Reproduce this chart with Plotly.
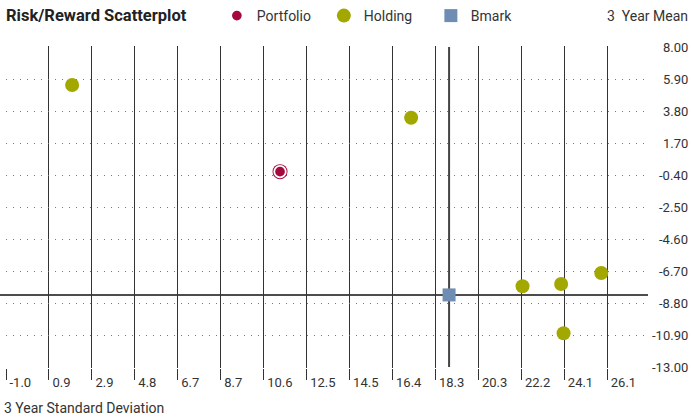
import numpy as np
import plotly.graph_objects as go

# ---- data ----
portfolio_x = [11.35]
portfolio_y = [-0.18]
holding_x = [1.98, 17.26, 22.28, 24.02, 25.83, 24.13]
holding_y = [5.51, 3.36, -7.70, -7.55, -6.83, -10.79]
bmark_x = [18.97]
bmark_y = [-8.27]
x_tick_labels = ["-1.0", "0.9", "2.9", "4.8", "6.7", "8.7", "10.6", "12.5",
                 "14.5", "16.4", "18.3", "20.3", "22.2", "24.1", "26.1"]
y_tick_labels = ["8.00", "5.90", "3.80", "1.70", "-0.40", "-2.50", "-4.60",
                 "-6.70", "-8.80", "-10.90", "-13.00"]

FONT = "Roboto, Liberation Sans, sans-serif"
RED = "#a6093d"
OLIVE = "#a2a800"
BLUE = "#6f8db3"
PLOT_W = 639
PLOT_H = 322
Y_PAD = 21.0 / 320  # one pixel in data units, keeps edge gridlines inside

x_tickvals = np.linspace(-1.0, 26.1, len(x_tick_labels))
y_tickvals = [float(v) for v in y_tick_labels]

fig = go.Figure()

# portfolio: outer ring
fig.add_trace(go.Scatter(x=portfolio_x, y=portfolio_y, mode="markers",
                         marker=dict(size=15, color=RED, line=dict(width=0)),
                         showlegend=False, hoverinfo="skip"))
fig.add_trace(go.Scatter(x=portfolio_x, y=portfolio_y, mode="markers", name="Portfolio",
                         marker=dict(size=11.5, color=RED, line=dict(width=1.8, color="white"))))
fig.add_trace(go.Scatter(x=holding_x, y=holding_y, mode="markers", name="Holding",
                         marker=dict(size=14, color=OLIVE)))
fig.add_trace(go.Scatter(x=bmark_x, y=bmark_y, mode="markers", name="Bmark",
                         marker=dict(size=13, symbol="square", color=BLUE)))

# benchmark crosshair
fig.add_shape(type="line", xref="paper", yref="y", x0=-6 / PLOT_W, x1=1 + 3 / PLOT_W,
              y0=bmark_y[0], y1=bmark_y[0], line=dict(color="#111", width=1.5), layer="below")
fig.add_shape(type="line", xref="x", yref="y", x0=bmark_x[0], x1=bmark_x[0],
              y0=y_tickvals[-1], y1=y_tickvals[0], line=dict(color="#444", width=2), layer="below")

annotations = [
    dict(text="<b>Risk/Reward Scatterplot</b>", xref="paper", yref="paper",
         x=-2 / PLOT_W, y=1 + 30 / PLOT_H, xanchor="left", yanchor="middle", showarrow=False,
         font=dict(family=FONT, size=16.5, color="#222")),
    dict(text="3  Year Mean", xref="paper", yref="paper",
         x=1 + 45 / PLOT_W, y=1 + 30 / PLOT_H, xanchor="right", yanchor="middle", showarrow=False,
         font=dict(family=FONT, size=14, color="#333")),
    dict(text="3 Year Standard Deviation", xref="paper", yref="paper",
         x=-4 / PLOT_W, y=-40 / PLOT_H, xanchor="left", yanchor="middle", showarrow=False,
         font=dict(family=FONT, size=14, color="#333")),
]
for v, t in zip(y_tickvals, y_tick_labels):
    annotations.append(dict(text=t, xref="paper", yref="y", x=1 + 45 / PLOT_W, y=v,
                            xanchor="right", yanchor="middle", showarrow=False,
                            font=dict(family=FONT, size=13, color="#333")))

fig.update_layout(
    width=690, height=419,
    margin=dict(l=6, r=45, t=46, b=51, autoexpand=False),
    paper_bgcolor="white", plot_bgcolor="white",
    font=dict(family=FONT, size=13, color="#222"),
    showlegend=True,
    legend=dict(orientation="h", x=0.33, y=1 + 30 / PLOT_H, xanchor="left", yanchor="middle",
                entrywidth=62, entrywidthmode="pixels",
                font=dict(family=FONT, size=14, color="#333"),
                bgcolor="rgba(0,0,0,0)", itemclick=False),
    xaxis=dict(range=[-1.0, 27.8], tickmode="array", tickvals=x_tickvals,
               ticktext=x_tick_labels, ticklabelposition="outside right",
               ticklabelshift=3, ticklabelstandoff=2,
               ticks="outside", ticklen=11, tickcolor="#333", tickwidth=1,
               showgrid=True, gridcolor="#333", gridwidth=1,
               zeroline=False, showline=False, automargin=False,
               tickfont=dict(family=FONT, size=13, color="#333")),
    yaxis=dict(range=[-13.0 - Y_PAD, 8.0 + Y_PAD], tickmode="array", tickvals=y_tickvals,
               showticklabels=False, side="right", ticks="",
               showgrid=True, gridcolor="#777", gridwidth=1, griddash="1px,6px",
               zeroline=False, showline=False, automargin=False),
    annotations=annotations,
)

fig.write_html("out.html", config={"displayModeBar": False, "staticPlot": True},
               post_script="document.body.style.margin='0';")
